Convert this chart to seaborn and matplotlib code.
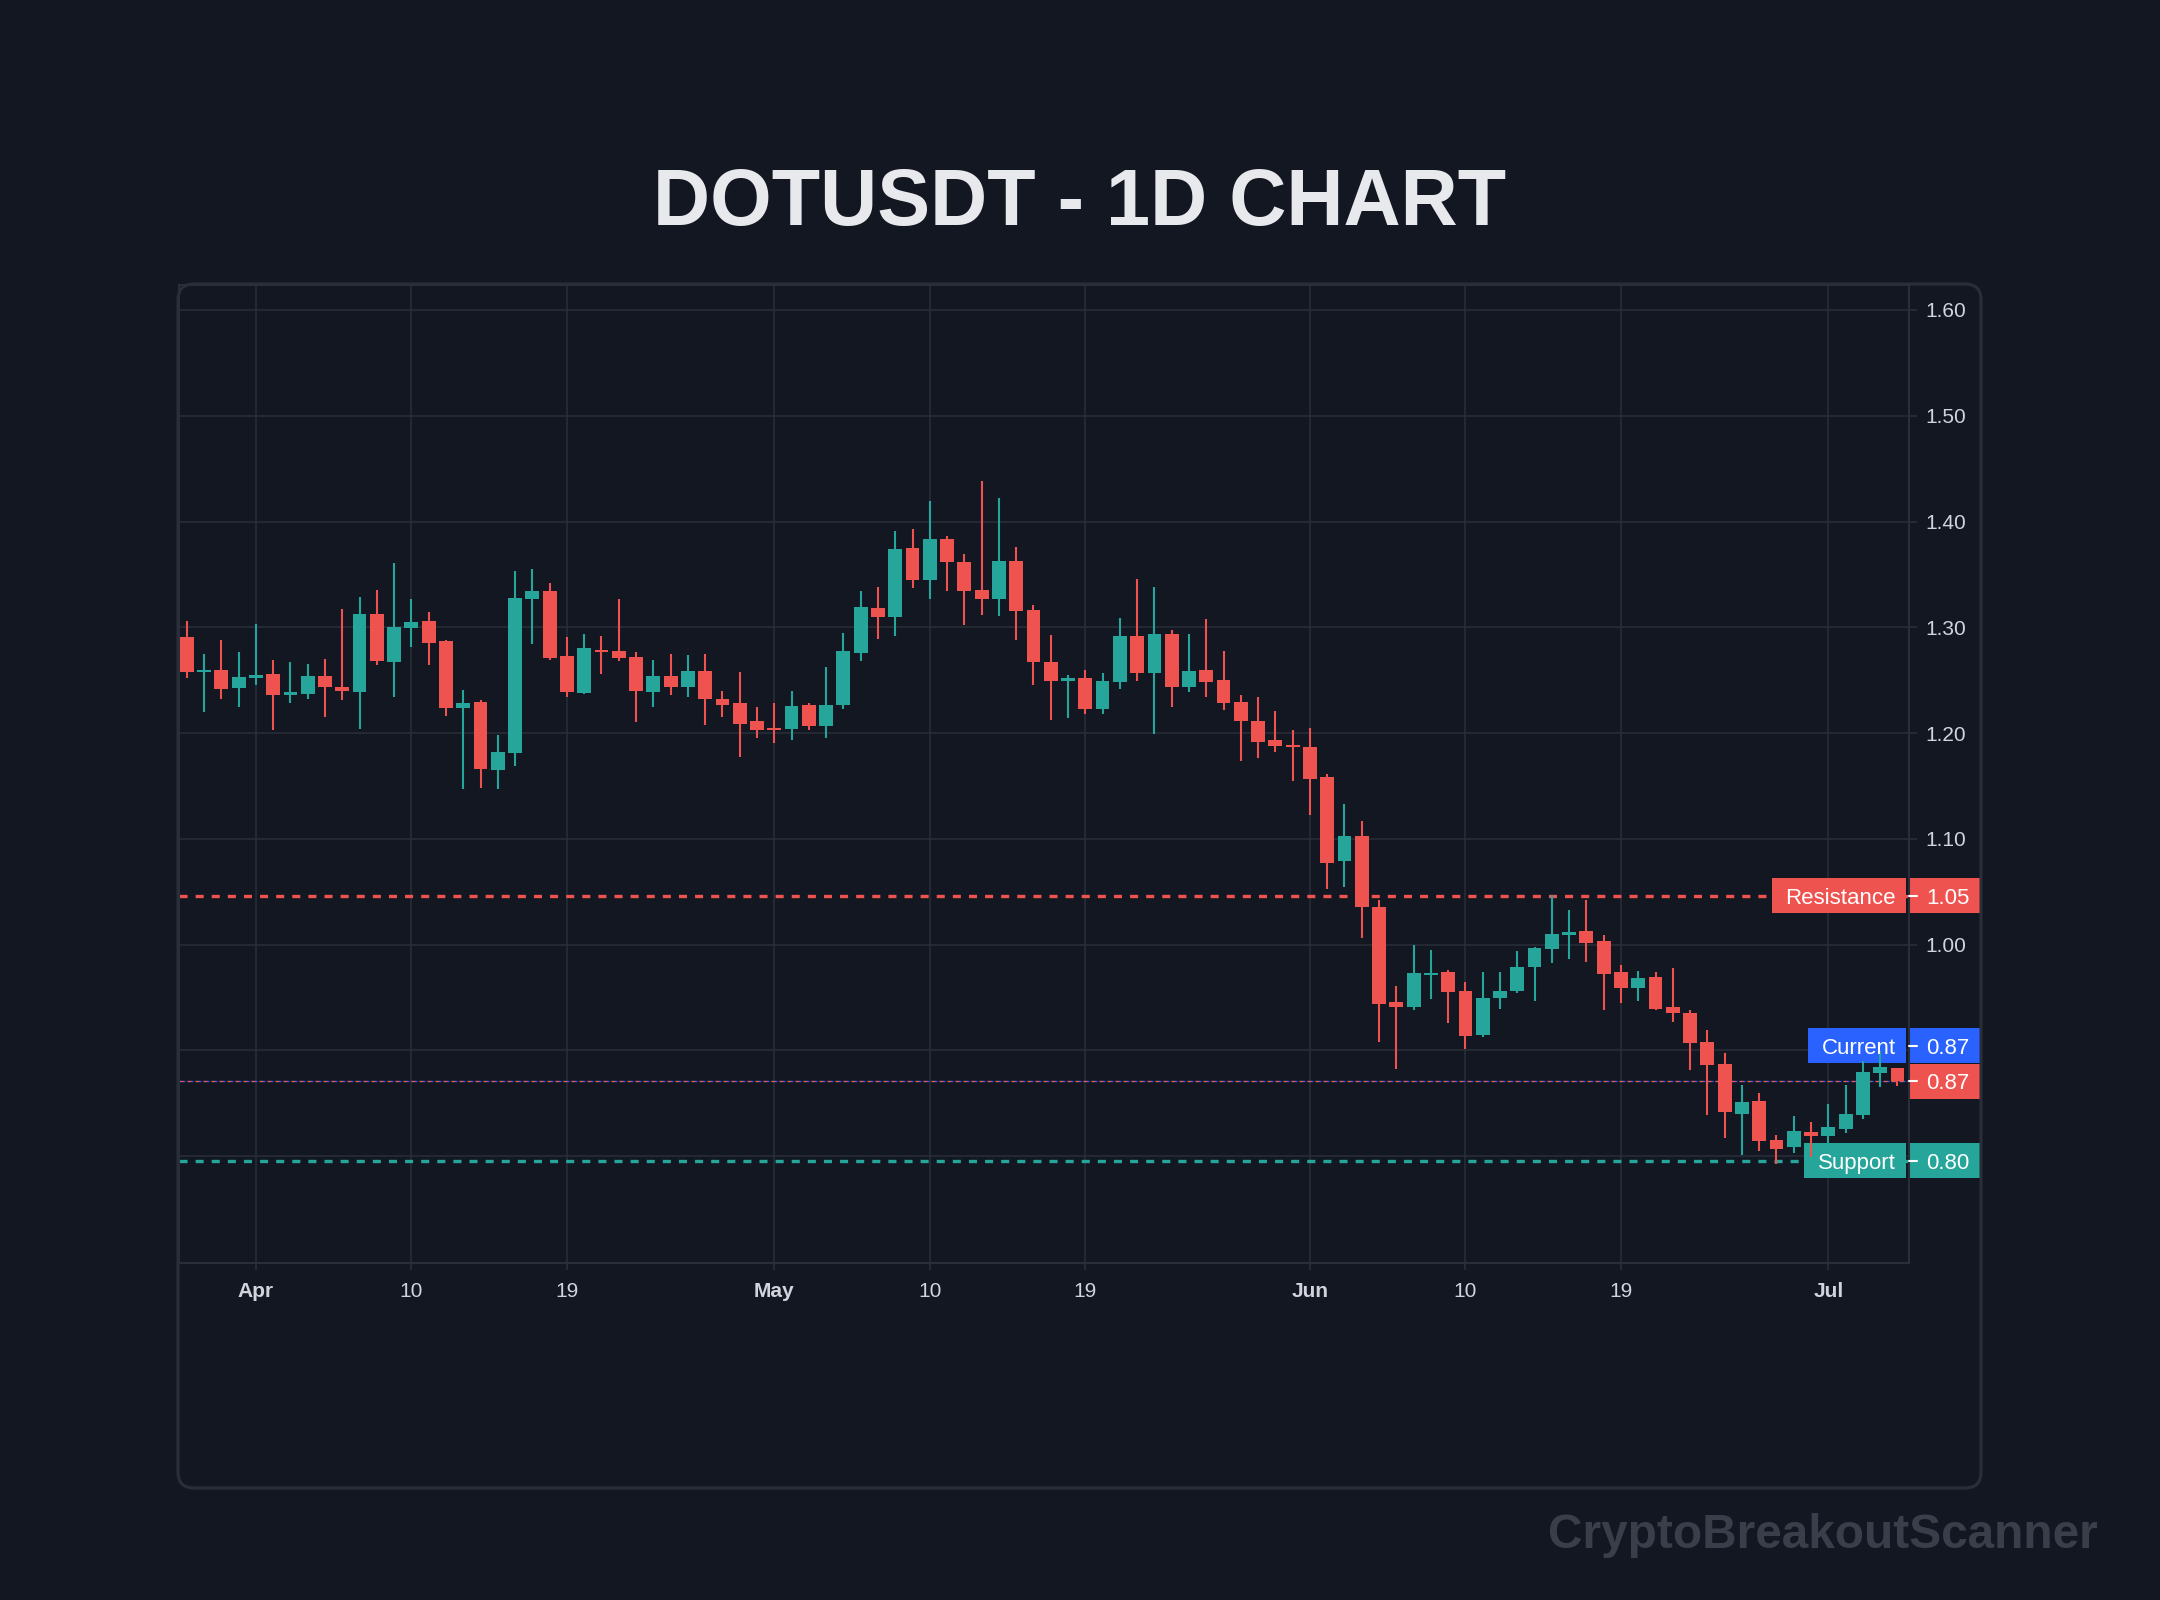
import matplotlib
matplotlib.use("Agg")
import matplotlib.pyplot as plt
import matplotlib.dates as mdates
import matplotlib.transforms as mtransforms
from matplotlib.patches import FancyBboxPatch, Rectangle
import numpy as np
import pandas as pd
import seaborn as sns

# ── colours ──────────────────────────────────────────────────
BG = "#131722"
GRID = "#2a2e39"
TEXT = "#d1d4dc"
UP = "#26a69a"
DOWN = "#ef5350"
BLUE = "#2962ff"

# ── data ─────────────────────────────────────────────────────
title = "DOTUSDT - 1D CHART"
watermark = "CryptoBreakoutScanner"
first_day = "2025-03-28"

opens = [1.291, 1.258, 1.260, 1.243, 1.252, 1.256, 1.236, 1.237, 1.254, 1.244,
         1.239, 1.313, 1.267, 1.299, 1.306, 1.287, 1.224, 1.229, 1.165, 1.181,
         1.327, 1.334, 1.273, 1.238, 1.279, 1.278, 1.272, 1.239, 1.254, 1.244,
         1.259, 1.232, 1.228, 1.211, 1.205, 1.204, 1.227, 1.207, 1.227, 1.276,
         1.318, 1.310, 1.375, 1.345, 1.383, 1.362, 1.335, 1.327, 1.363, 1.316,
         1.267, 1.249, 1.252, 1.223, 1.248, 1.292, 1.257, 1.294, 1.244, 1.260,
         1.250, 1.229, 1.211, 1.193, 1.189, 1.187, 1.158, 1.079, 1.103, 1.036,
         0.946, 0.941, 0.971, 0.974, 0.956, 0.915, 0.950, 0.956, 0.979, 0.996,
         1.009, 1.013, 1.003, 0.974, 0.959, 0.969, 0.941, 0.935, 0.908, 0.887,
         0.840, 0.852, 0.815, 0.809, 0.823, 0.819, 0.826, 0.839, 0.879, 0.883]
highs = [1.306, 1.275, 1.288, 1.277, 1.303, 1.269, 1.267, 1.265, 1.270, 1.317,
         1.329, 1.335, 1.361, 1.327, 1.314, 1.288, 1.241, 1.231, 1.198, 1.353,
         1.355, 1.342, 1.291, 1.294, 1.292, 1.327, 1.277, 1.269, 1.275, 1.274,
         1.275, 1.240, 1.258, 1.225, 1.228, 1.240, 1.228, 1.262, 1.295, 1.334,
         1.338, 1.391, 1.393, 1.419, 1.386, 1.369, 1.438, 1.422, 1.376, 1.321,
         1.293, 1.255, 1.260, 1.257, 1.309, 1.346, 1.338, 1.297, 1.294, 1.308,
         1.278, 1.236, 1.234, 1.221, 1.203, 1.205, 1.161, 1.133, 1.117, 1.042,
         0.961, 1.000, 0.995, 0.976, 0.965, 0.974, 0.974, 0.994, 0.998, 1.047,
         1.033, 1.042, 1.009, 0.981, 0.975, 0.974, 0.978, 0.938, 0.919, 0.898,
         0.867, 0.860, 0.820, 0.838, 0.832, 0.849, 0.867, 0.890, 0.899, 0.883]
lows = [1.252, 1.220, 1.232, 1.225, 1.245, 1.203, 1.228, 1.232, 1.215, 1.231,
        1.204, 1.264, 1.234, 1.281, 1.264, 1.216, 1.147, 1.148, 1.147, 1.169,
        1.284, 1.269, 1.234, 1.237, 1.256, 1.268, 1.210, 1.225, 1.236, 1.234,
        1.208, 1.215, 1.177, 1.195, 1.191, 1.193, 1.203, 1.195, 1.223, 1.268,
        1.289, 1.292, 1.337, 1.327, 1.334, 1.302, 1.312, 1.311, 1.288, 1.245,
        1.212, 1.214, 1.218, 1.218, 1.242, 1.249, 1.199, 1.225, 1.239, 1.234,
        1.222, 1.174, 1.176, 1.182, 1.155, 1.123, 1.053, 1.054, 1.006, 0.908,
        0.882, 0.938, 0.949, 0.926, 0.901, 0.913, 0.939, 0.954, 0.947, 0.983,
        0.986, 0.984, 0.938, 0.945, 0.947, 0.938, 0.927, 0.881, 0.839, 0.817,
        0.801, 0.805, 0.793, 0.803, 0.799, 0.800, 0.822, 0.835, 0.865, 0.866]
closes = [1.258, 1.260, 1.242, 1.253, 1.255, 1.236, 1.239, 1.254, 1.244, 1.240,
          1.313, 1.268, 1.300, 1.305, 1.285, 1.224, 1.228, 1.166, 1.182, 1.328,
          1.334, 1.271, 1.239, 1.280, 1.277, 1.271, 1.240, 1.254, 1.244, 1.259,
          1.232, 1.227, 1.209, 1.203, 1.203, 1.226, 1.207, 1.227, 1.278, 1.319,
          1.310, 1.374, 1.345, 1.383, 1.362, 1.334, 1.327, 1.363, 1.315, 1.267,
          1.249, 1.252, 1.223, 1.249, 1.292, 1.257, 1.294, 1.244, 1.259, 1.248,
          1.228, 1.211, 1.192, 1.188, 1.187, 1.157, 1.077, 1.103, 1.036, 0.944,
          0.941, 0.973, 0.973, 0.955, 0.914, 0.950, 0.956, 0.979, 0.997, 1.010,
          1.012, 1.002, 0.972, 0.959, 0.968, 0.939, 0.935, 0.907, 0.886, 0.842,
          0.851, 0.814, 0.807, 0.824, 0.819, 0.828, 0.840, 0.880, 0.884, 0.871]

resistance = 1.046
support = 0.7955

tick_days = ["2025-04-01", "2025-04-10", "2025-04-19", "2025-05-01", "2025-05-10",
             "2025-05-19", "2025-06-01", "2025-06-10", "2025-06-19", "2025-07-01"]
tick_names = ["Apr", "10", "19", "May", "10", "19", "Jun", "10", "19", "Jul"]
price_ticks = [0.8, 0.9, 1.0, 1.1, 1.2, 1.3, 1.4, 1.5, 1.6]

df = pd.DataFrame({
    "date": pd.date_range(first_day, periods=len(opens), freq="D"),
    "open": opens, "high": highs, "low": lows, "close": closes,
})
df["x"] = mdates.date2num(df["date"])
df["color"] = np.where(df["close"] >= df["open"], UP, DOWN)
df["body_lo"] = df[["open", "close"]].min(axis=1)
df["body_h"] = (df["close"] - df["open"]).abs().clip(lower=0.002)
current = df["close"].iloc[-1]

# ── theme ────────────────────────────────────────────────────
sns.set_theme(style="darkgrid", rc={
    "axes.facecolor": BG, "figure.facecolor": BG,
    "grid.color": GRID, "axes.edgecolor": GRID,
})
plt.rcParams["font.family"] = ["Liberation Sans", "DejaVu Sans"]
plt.rcParams["lines.scale_dashes"] = False

W, H, DPI = 2160, 1600, 200
fig = plt.figure(figsize=(W / DPI, H / DPI), dpi=DPI)
fig.set_facecolor(BG)

# axes box in pixels, measured from the top-left corner
AX_L, AX_R, AX_T, AX_B = 179, 1908.5, 285, 1263
ax = fig.add_axes([AX_L / W, 1 - AX_B / H, (AX_R - AX_L) / W, (AX_B - AX_T) / H])
ax.set_facecolor(BG)

# ── candles ──────────────────────────────────────────────────
ax.vlines(df["x"], df["low"], df["high"], colors=df["color"], lw=0.75, zorder=3)
ax.bar(df["x"], df["body_h"], bottom=df["body_lo"], width=0.8,
       color=df["color"], lw=0, zorder=4)

# ── level lines ──────────────────────────────────────────────
ax.axhline(resistance, color=DOWN, lw=1.2, ls=(0, (2.9, 2.9)), zorder=2)
ax.axhline(support, color=UP, lw=1.2, ls=(0, (2.9, 2.9)), zorder=2)
ax.axhline(current, color=BLUE, lw=0.45, ls=(0, (2.16, 0.72)), zorder=2)
ax.axhline(current, color=DOWN, lw=0.45, ls=(0, (1.44, 1.44)), zorder=2.1)

ymin, ymax = 0.699, 1.6236
ax.set_xlim(df["x"].iloc[0] - 0.45, df["x"].iloc[-1] + 0.64)
ax.set_ylim(ymin, ymax)

# ── axes styling ─────────────────────────────────────────────
ax.set_xticks(mdates.date2num(pd.to_datetime(tick_days)))
ax.set_xticklabels(tick_names)
for lbl, name in zip(ax.get_xticklabels(), tick_names):
    if not name.isdigit():
        lbl.set_fontweight("bold")
ax.yaxis.tick_right()
ax.set_yticks(price_ticks)
ax.set_yticklabels([f"{v:.2f}" for v in price_ticks])
ax.tick_params(axis="both", colors=GRID, labelcolor=TEXT, labelsize=7.5, width=0.6)
ax.tick_params(axis="x", length=2.5, pad=4.3, bottom=True)
ax.tick_params(axis="y", length=2.9, pad=3.2, right=True)
ax.grid(True, color=GRID, lw=0.55)
for s in ax.spines.values():
    s.set_visible(True)
    s.set_color(GRID)
    s.set_linewidth(0.75)

# ── price tags on the right ──────────────────────────────────
ax_w = AX_R - AX_L
px_per_unit = (AX_B - AX_T) / (ymax - ymin)
box_h = 35 / px_per_unit
tag_tr = mtransforms.blended_transform_factory(ax.transAxes, ax.transData)
# nudge tag texts down a little so the letters sit in the middle of the box
text_tr = tag_tr + mtransforms.ScaledTranslation(0, -2.5 / DPI, fig.dpi_scale_trans)
tag_levels = []


def price_tag(y, value, color, name=None, name_w=0):
    tag_levels.append(y)
    ax.add_patch(Rectangle((1.0, y - box_h / 2), 72 / ax_w, box_h, transform=tag_tr,
                           color=color, lw=0, clip_on=False, zorder=2.2))
    ax.plot([1.0, 1 + 8 / ax_w], [y, y], transform=tag_tr, color="white",
            lw=0.75, clip_on=False, zorder=2.6)
    ax.text(1 + 17.5 / ax_w, y, f"{value:.2f}", transform=text_tr, ha="left",
            va="center", color="white", fontsize=8, zorder=6, clip_on=False)
    if name:
        ax.add_patch(Rectangle((1 - (name_w + 2.5) / ax_w, y - box_h / 2), name_w / ax_w,
                               box_h, transform=tag_tr, color=color, lw=0,
                               clip_on=False, zorder=2.2))
        ax.text(1 - 12.5 / ax_w, y, name, transform=text_tr, ha="right", va="center",
                color="white", fontsize=8, zorder=6)


price_tag(resistance, resistance, DOWN, "Resistance", 134)
price_tag(support, support, UP, "Support", 102)
price_tag(current + 0.0335, current, BLUE, "Current", 98)
price_tag(current, current, DOWN)

# tick labels that sit under a price tag are covered anyway -> hide them
for lbl, v in zip(ax.get_yticklabels(), price_ticks):
    if any(abs(v - t) < box_h / 2 for t in tag_levels):
        lbl.set_visible(False)

# ── panel, title, watermark ──────────────────────────────────
panel = FancyBboxPatch((178 / DPI, (H - 1488) / DPI), (1981 - 178) / DPI, (1488 - 284) / DPI,
                       boxstyle="round,pad=0,rounding_size=0.08",
                       transform=fig.dpi_scale_trans, fill=False,
                       edgecolor=GRID, lw=1.1, zorder=3)
fig.patches.append(panel)

fig.text(0.5, 1 - 205 / H, title, ha="center", va="center", fontsize=28.5,
         fontweight="bold", color="#e8e9ec")
fig.text(2098 / W, 1 - 1535 / H, watermark, ha="right", va="center", fontsize=17.2,
         fontweight="bold", color="#3a3e4a")

fig.savefig("out.png", dpi=DPI, facecolor=BG)
